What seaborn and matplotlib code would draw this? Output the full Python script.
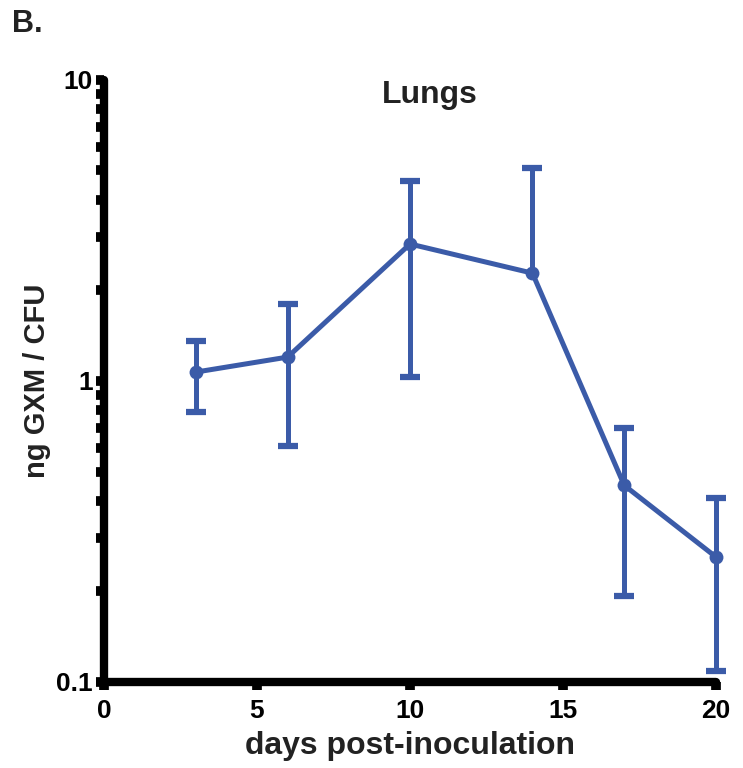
import numpy as np
import matplotlib
matplotlib.use("Agg")
import matplotlib.pyplot as plt
import seaborn as sns
from matplotlib.ticker import FixedLocator, LogLocator, NullFormatter

# values
days = [3, 6, 10, 14, 17, 20]
gxm_mean = [1.07, 1.2, 2.85, 2.28, 0.45, 0.26]
err_low = [0.79, 0.61, 1.03, 2.28, 0.193, 0.109]
err_high = [1.36, 1.80, 4.6, 5.1, 0.70, 0.41]

blue = "#3b5ba8"

sns.set_style("ticks")
plt.rcParams['font.family'] = ['Liberation Sans', 'DejaVu Sans']
plt.rcParams['font.weight'] = 'bold'

fig = plt.figure(figsize=(7.43, 7.68), dpi=100)
ax = fig.add_axes([0.140, 0.112, 0.8237, 0.784])

# error bars (vertical part only)
lower = np.array(gxm_mean) - np.array(err_low)
upper = np.array(err_high) - np.array(gxm_mean)
ax.errorbar(days, gxm_mean, yerr=[lower, upper], fmt="none", ecolor=blue,
            elinewidth=3.6, capsize=0, zorder=2, clip_on=False)

# caps, skipping the lower cap where the bar has no lower part
cap_x = [d for d, lo, m in zip(days, err_low, gxm_mean) if lo < m] + days
cap_y = [lo for lo, m in zip(err_low, gxm_mean) if lo < m] + err_high
ax.plot(cap_x, cap_y, linestyle="none", marker="_", markersize=14,
        markeredgewidth=4.5, color=blue, clip_on=False, zorder=2)

# mean line with markers
sns.lineplot(x=days, y=gxm_mean, ax=ax, color=blue, linewidth=3.6,
             marker="o", markersize=10, markeredgewidth=0, zorder=3,
             clip_on=False)

ax.set_yscale("log")
ax.set_xlim(0, 20)
ax.set_ylim(0.1, 10)
ax.set_xticks([0, 5, 10, 15, 20])
ax.yaxis.set_major_locator(FixedLocator([0.1, 1, 10]))
ax.set_yticklabels(["0.1", "1", "10"])
ax.yaxis.set_minor_locator(LogLocator(base=10, subs=np.arange(2, 10)))
ax.yaxis.set_minor_formatter(NullFormatter())

sns.despine(ax=ax)
for s in ["left", "bottom"]:
    ax.spines[s].set_linewidth(6)
    ax.spines[s].set_color("black")
    ax.spines[s].set_capstyle("round")

ax.tick_params(axis="both", which="both", direction="out", length=6,
               width=7, labelsize=19, colors="black")
ax.tick_params(axis="x", pad=6)
ax.tick_params(axis="y", pad=2)
for lab in ax.get_xticklabels() + ax.get_yticklabels():
    lab.set_fontweight("bold")

ax.set_xlabel("days post-inoculation", fontsize=23, fontweight="bold",
              color="#222222", labelpad=6)
ax.set_ylabel("ng GXM / CFU", fontsize=21, fontweight="bold",
              color="#222222", labelpad=4)
ax.text(0.533, 1.0, "Lungs", transform=ax.transAxes, ha="center", va="top",
        fontsize=23, fontweight="bold", color="#222222")
fig.text(0.016, 0.988, "B.", fontsize=22, fontweight="bold", va="top",
         color="#222222")

fig.savefig("out.png", dpi=100)
